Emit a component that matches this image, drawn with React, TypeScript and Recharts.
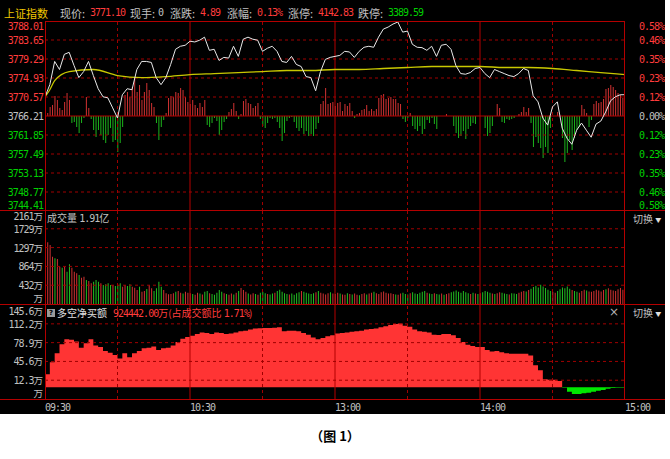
import React from 'react'
import { ComposedChart, Line, Bar, Area, XAxis, YAxis, ReferenceLine, Cell } from 'recharts'

// 上证指数 分时, one row per minute (0 = 09:30, 240 = 15:00)
const PRICE = [ // every 2 minutes
  3770.62, 3773.40, 3778.73, 3776.88, 3780.36, 3780.82, 3777.81, 3775.02, 3776.41, 3778.73,
  3775.49, 3772.47, 3770.62, 3770.38, 3768.07, 3765.75, 3771.08, 3772.47, 3772.24, 3776.88,
  3778.73, 3778.73, 3778.50, 3775.02, 3773.40, 3775.02, 3778.04, 3781.52, 3782.21, 3782.44,
  3783.37, 3783.20, 3783.60, 3784.30, 3781.28, 3781.52, 3778.96, 3779.66, 3779.50, 3782.21,
  3779.89, 3783.83, 3784.30, 3783.83, 3783.60, 3781.05, 3781.75, 3782.21, 3781.05, 3778.73,
  3778.50, 3779.89, 3778.04, 3777.57, 3775.25, 3775.02, 3772.01, 3776.41, 3779.20, 3779.66,
  3779.89, 3780.12, 3781.05, 3780.90, 3779.66, 3781.05, 3781.98, 3782.21, 3781.98, 3784.30,
  3786.15, 3786.62, 3787.31, 3787.78, 3785.46, 3785.70, 3782.67, 3781.98, 3781.90, 3781.28,
  3782.21, 3779.89, 3782.44, 3782.67, 3781.52, 3777.81, 3775.95, 3775.80, 3776.18, 3777.11,
  3777.34, 3775.95, 3775.02, 3776.88, 3776.41, 3775.95, 3775.49, 3775.25, 3775.95, 3777.11,
  3776.65, 3770.85, 3769.46, 3765.75, 3764.12, 3768.30, 3769.46, 3763.43, 3761.11, 3759.72,
  3762.96, 3764.59, 3762.96, 3761.34, 3764.35, 3765.05, 3767.14, 3769.69, 3770.62, 3771.08,
  3771.10,
]
const AVG_MIN = [0, 2, 4, 10, 20, 30, 40, 50, 60, 70, 80, 90, 100, 110, 120, 130, 140, 150, 160, 170, 180, 190, 200, 210, 220, 230, 240]
const AVG = [
  3770.62, 3772.24, 3774.33, 3776.41, 3776.88, 3775.49, 3775.02, 3775.25, 3775.72, 3775.95,
  3776.18, 3776.41, 3776.65, 3776.65, 3776.88, 3776.88, 3777.11, 3777.34, 3777.57, 3777.57,
  3777.57, 3777.34, 3777.34, 3777.11, 3776.65, 3776.18, 3775.72,
]
const STRENGTH = [
  0, 3, 9, 11, 20, 16, 8, 6, 14, 23,
  16, -7, -6, -11, -17, -7, -2, 19, 8, -3,
  -14, -21, -14, -19, -24, -27, -19, -12, -26, -24,
  -36, -27, -11, 21, 24, 19, 29, 38, 24, 31,
  16, 24, 33, 26, 13, 9, -7, -24, -11, -4,
  3, 18, 20, 19, 24, 23, 28, 26, 19, 14,
  12, 16, 11, 8, 13, 9, 16, -9, -11, -7,
  -2, -5, -19, -14, -6, -3, 4, 7, 13, 5,
  -3, 2, 15, 17, 13, 12, 8, 10, 13, -3,
  -10, -12, -7, -2, -3, -2, -6, -12, -25, -17,
  -5, -2, -1, -6, -12, -15, -12, -18, -15, -20,
  -18, -20, -13, -7, 12, 15, 28, 12, 13, 14,
  10, 13, 14, 5, 12, 10, 13, 5, -2, 2,
  3, 6, 7, 11, 5, 7, 5, 7, 18, 21,
  22, 17, 18, 19, 17, 17, 13, 12, -3, -6,
  -2, 3, -10, -13, -15, -10, -18, -13, -4, -7,
  -2, -8, -13, 0, 0, 0, 2, 0, 0, -10,
  -17, -22, -20, -15, -23, -13, -10, -7, -8, 0,
  0, 0, -12, -20, -17, -10, 0, 12, 8, -6,
  -7, -3, -4, -3, -2, 0, 2, 4, 9, 4,
  8, -7, -31, -21, -27, -32, -42, -31, -37, -12,
  0, 0, 4, 0, -22, -46, -37, -24, -34, -22,
  -14, -11, 11, 7, 3, -11, -4, 12, 15, 13,
  14, 17, 27, 28, 31, 29, 26, 23, 21, 18,
  15,
]
const VOLUME = [ // 万
  1817, 1419, 1357, 1088, 1051, 1035, 858, 835, 858, 743,
  913, 835, 743, 706, 667, 605, 628, 552, 529, 476,
  513, 552, 513, 476, 437, 453, 476, 437, 437, 414,
  437, 476, 398, 437, 414, 453, 398, 375, 322, 398,
  283, 299, 345, 437, 361, 299, 361, 513, 398, 322,
  246, 223, 230, 250, 280, 300, 260, 240, 280, 260,
  250, 230, 210, 260, 240, 220, 280, 300, 250, 230,
  210, 260, 320, 280, 250, 230, 210, 240, 220, 260,
  300, 370, 320, 280, 240, 220, 250, 230, 210, 260,
  280, 250, 230, 220, 240, 260, 300, 330, 280, 250,
  230, 220, 240, 210, 250, 270, 300, 280, 260, 240,
  230, 250, 270, 300, 260, 240, 220, 250, 270, 240,
  230, 260, 240, 220, 210, 250, 230, 220, 240, 210,
  200, 230, 250, 220, 240, 260, 280, 250, 230, 270,
  290, 260, 240, 250, 230, 220, 210, 240, 260, 230,
  220, 250, 270, 240, 230, 260, 280, 300, 260, 240,
  230, 250, 230, 220, 240, 210, 230, 250, 270, 290,
  310, 280, 260, 300, 270, 250, 230, 260, 240, 230,
  250, 270, 300, 280, 260, 240, 230, 250, 270, 260,
  240, 230, 220, 250, 240, 230, 260, 280, 300, 290,
  320, 350, 390, 420, 380, 440, 400, 370, 330, 300,
  280, 260, 300, 340, 380, 360, 400, 350, 320, 300,
  280, 260, 300, 330, 310, 290, 280, 300, 330, 310,
  290, 320, 340, 360, 330, 310, 300, 340, 370, 330,
  60,
]
const VOL_DIR = [
  'rrrrgrrgrg', 'grrrgrrgrr', 'gggrggggrg', 'ggrrggrrrg', 'rrgrrggggr',
  'rrrrgrrgrr', 'rgrrgrggrg', 'ggggrgrrgr', 'grrrgrrgrg', 'ggrggrgggg',
  'grggggrggg', 'ggrgrrrrgr', 'rrgrrgrgrr', 'grrgrrgrrr', 'rrrrrgrrgg',
  'grggggggrg', 'grggrgrrgg', 'ggggggrgrg', 'rggggrgrrg', 'ggrgggrrrg',
  'rggggggggg', 'rrggggggrg', 'grrrgrrrrr', 'rrgrrrrrrr', 'g',
].join('')
const NET = [ // 万, every 2 minutes
  23, 44, 60, 76, 85, 84, 81, 70, 78, 85,
  74, 71, 64, 61, 57, 51, 60, 53, 60, 64,
  69, 70, 72, 66, 69, 70, 74, 80, 86, 89,
  91, 94, 97, 96, 94, 97, 96, 94, 95, 97,
  99, 100, 102, 104, 104.5, 105, 105, 105.5, 106, 99,
  100, 100, 99, 96, 93, 88, 85, 87, 90, 92,
  95, 96, 97, 98, 99, 100, 102, 103, 104, 106,
  108, 110, 112, 113, 109, 107, 102, 99, 98, 97,
  93, 92.6, 94, 94, 92, 87, 80, 75, 73, 71,
  71, 66, 63, 64, 62, 60, 59, 59, 59, 59,
  56, 39, 30, 14, 13, 13, 11, -1, -8, -12,
  -12, -11, -10, -8, -6.5, -5, -3, -1.5, -1, -1,
  -3,
]

const PRICE_TICKS = [3744.41, 3748.77, 3753.13, 3757.49, 3761.85, 3766.21, 3770.57, 3774.93, 3779.29, 3783.65, 3788.01]
const PCT_LABELS = ['0.58%', '0.46%', '0.35%', '0.23%', '0.12%', '0.00%', '0.12%', '0.23%', '0.35%', '0.46%', '0.58%']
const VOL_TICKS = [0, 432, 864, 1297, 1729, 2161]
const VOL_LABELS = ['万', '432万', '864万', '1297万', '1729万', '2161万']
const NET_TICKS = [-21.0, 12.3, 45.6, 78.9, 112.2, 145.6]
const NET_LABELS = ['万', '12.3万', '45.6万', '78.9万', '112.2万', '145.6万']
const TIME_TICKS = [0, 60, 120, 180, 240]
const TIME_LABELS = ['09:30', '10:30', '13:00', '14:00', '15:00']
const GRID_MIN = [30, 60, 90, 120, 150, 180, 210]

const RED_TXT = '#ff3c3c'
const GREEN_TXT = '#00d000'
const GRAY_TXT = '#c0c0c0'
const FRAME = '#b40000'
const GRID = '#a00000'
const NUM: React.CSSProperties = { fontFamily: "'DejaVu Sans Mono', monospace", fontSize: 10, letterSpacing: -1 }
const CJK = "'Noto Sans CJK SC', sans-serif"

const rows = Array.from({ length: 241 }, (_, t) => {
  const ai = AVG_MIN.indexOf(t)
  const n = t % 2 === 0 ? NET[t / 2] : null
  return {
    t,
    price: t % 2 === 0 ? PRICE[t / 2] : null,
    avg: ai >= 0 ? AVG[ai] : null,
    str: STRENGTH[t],
    vol: VOLUME[t],
    up: n == null ? null : Math.max(n, 0),
    dn: n == null ? null : Math.min(n, 0),
  }
})

const PMAX = PRICE_TICKS[PRICE_TICKS.length - 1]
const PMIN = PRICE_TICKS[0]
const PMID = PRICE_TICKS[5]

function PriceTick({ y, payload }: any) {
  const v = payload.value
  const fill = v > PMID + 0.01 ? RED_TXT : v < PMID - 0.01 ? GREEN_TXT : GRAY_TXT
  const dy = v === PMAX ? 5 : v === PMIN ? -6 : 0
  return <text x={43} y={y + dy} textAnchor="end" dominantBaseline="central" fill={fill} style={NUM}>{v.toFixed(2)}</text>
}

function PctTick({ y, payload }: any) {
  const v = payload.value
  const i = PRICE_TICKS.indexOf(v)
  const fill = v > PMID + 0.01 ? RED_TXT : v < PMID - 0.01 ? GREEN_TXT : GRAY_TXT
  const dy = v === PMAX ? 5 : v === PMIN ? -6 : 0
  return <text x={639} y={y + dy} textAnchor="start" dominantBaseline="central" fill={fill} style={NUM}>{PCT_LABELS[i]}</text>
}

function makeTick(ticks: number[], labels: string[]) {
  return function UnitTick({ y, payload }: any) {
    const i = ticks.indexOf(payload.value)
    const dy = i === ticks.length - 1 ? 6 : i === 0 ? -6 : 0
    const label = labels[i]
    const num = label.slice(0, -1)
    return (
      <text x={43} y={y + dy} textAnchor="end" dominantBaseline="central" fill={GRAY_TXT}>
        <tspan style={NUM}>{num}</tspan>
        <tspan style={{ fontFamily: CJK, fontSize: 9.5 }}>万</tspan>
      </text>
    )
  }
}
const VolTick = makeTick(VOL_TICKS, VOL_LABELS)
const NetTick = makeTick(NET_TICKS, NET_LABELS)

function TimeTick({ x, payload }: any) {
  const i = TIME_TICKS.indexOf(payload.value)
  return <text x={x} y={102} textAnchor="start" dominantBaseline="central" fill={GRAY_TXT} style={NUM}>{TIME_LABELS[i]}</text>
}

const vGrid = (yId: string) => GRID_MIN.map(m => (
  <ReferenceLine key={'v' + m} x={m} yAxisId={yId} stroke={m % 60 === 0 ? FRAME : GRID}
    strokeDasharray={m % 60 === 0 ? undefined : '3 3'} ifOverflow="visible" />
))
const hGrid = (yId: string, values: number[]) => values.map(v => (
  <ReferenceLine key={'h' + v} y={v} yAxisId={yId} stroke={GRID} strokeDasharray="3 3" ifOverflow="visible" />
))

const line = (style: React.CSSProperties) => <div style={{ position: 'absolute', background: FRAME, ...style }} />

function Header() {
  const items = [
    { l: '现价:', lx: 60, v: '3771.10', vx: 90, c: RED_TXT },
    { l: '现手:', lx: 130, v: '0', vx: 158, c: GRAY_TXT },
    { l: '涨跌:', lx: 170, v: '4.89', vx: 200, c: RED_TXT },
    { l: '涨幅:', lx: 227, v: '0.13%', vx: 257, c: RED_TXT },
    { l: '涨停:', lx: 288, v: '4142.83', vx: 318, c: RED_TXT },
    { l: '跌停:', lx: 358, v: '3389.59', vx: 388, c: GREEN_TXT },
  ]
  return (
    <>
      <div style={{ position: 'absolute', left: 4, top: 5, fontFamily: CJK, fontSize: 11, lineHeight: '16px', color: '#f0c800' }}>上证指数</div>
      {items.map(it => (
        <React.Fragment key={it.l}>
          <div style={{ position: 'absolute', left: it.lx, top: 5, fontFamily: CJK, fontSize: 11, lineHeight: '16px', color: GRAY_TXT }}>{it.l}</div>
          <div style={{ position: 'absolute', left: it.vx, top: 7, ...NUM, lineHeight: '12px', color: it.c }}>{it.v}</div>
        </React.Fragment>
      ))}
    </>
  )
}

function Switch({ top }: { top: number }) {
  return (
    <div style={{ position: 'absolute', left: 633, top, fontFamily: CJK, fontSize: 10, lineHeight: '14px', color: GRAY_TXT }}>
      切换 <span style={{ fontSize: 6, color: '#e0e0e0', verticalAlign: 'middle' }}>▼</span>
    </div>
  )
}

export default function App() {
  return (
    <div style={{ position: 'absolute', left: 0, top: 0, width: 670, height: 459, background: '#fff', overflow: 'hidden' }}>
      <style>{'.recharts-surface { overflow: visible; }'}</style>
      <div style={{ position: 'absolute', left: 0, top: 0, width: 665, height: 414, background: '#000' }}>
        <Header />

        {/* 价格 */}
        <div style={{ position: 'absolute', left: 0, top: 0 }}>
          <ComposedChart width={665} height={211} data={rows} margin={{ top: 21, right: 0, bottom: 0, left: 0 }}>
            <XAxis dataKey="t" type="number" domain={[0, 240]} hide allowDataOverflow />
            <YAxis yAxisId="p" orientation="left" width={45} domain={[PMIN, PMAX]} ticks={PRICE_TICKS} interval={0}
              tick={<PriceTick />} axisLine={false} tickLine={false} allowDataOverflow />
            <YAxis yAxisId="r" orientation="right" width={40} domain={[PMIN, PMAX]} ticks={PRICE_TICKS} interval={0}
              tick={<PctTick />} axisLine={false} tickLine={false} allowDataOverflow />
            <YAxis yAxisId="s" hide domain={[-95, 95]} allowDataOverflow />
            {vGrid('p')}
            {hGrid('p', PRICE_TICKS.slice(1, -1).filter(v => v !== PMID))}
            <ReferenceLine y={PMID} yAxisId="p" stroke={FRAME} />
            <Bar yAxisId="s" dataKey="str" barSize={1} isAnimationActive={false}>
              {rows.map(r => <Cell key={r.t} fill={r.str >= 0 ? '#d23232' : '#1cb41c'} />)}
            </Bar>
            <Line yAxisId="p" dataKey="avg" type="monotone" stroke="#c8c800" strokeWidth={1.3} dot={false} connectNulls isAnimationActive={false} />
            <Line yAxisId="p" dataKey="price" type="linear" stroke="#e8e8e8" strokeWidth={1} dot={false} connectNulls isAnimationActive={false} />
          </ComposedChart>
        </div>

        {/* 成交量 */}
        <div style={{ position: 'absolute', left: 0, top: 210 }}>
          <ComposedChart width={665} height={94} data={rows} margin={{ top: 0, right: 40, bottom: 0, left: 0 }}>
            <XAxis dataKey="t" type="number" domain={[0, 240]} hide allowDataOverflow />
            <YAxis yAxisId="v" width={45} domain={[0, 2161]} ticks={VOL_TICKS} interval={0}
              tick={<VolTick />} axisLine={false} tickLine={false} allowDataOverflow />
            {vGrid('v')}
            {hGrid('v', VOL_TICKS.slice(1, -1))}
            <Bar yAxisId="v" dataKey="vol" barSize={1} isAnimationActive={false}>
              {rows.map(r => <Cell key={r.t} fill={VOL_DIR[r.t] === 'r' ? '#d23232' : '#22c022'} />)}
            </Bar>
          </ComposedChart>
        </div>

        {/* 多空净买额 */}
        <div style={{ position: 'absolute', left: 0, top: 305 }}>
          <ComposedChart width={665} height={108} data={rows} margin={{ top: 0, right: 40, bottom: 0, left: 0 }}>
            <XAxis dataKey="t" type="number" domain={[0, 240]} ticks={TIME_TICKS} interval={0} height={14}
              tick={<TimeTick />} axisLine={false} tickLine={false} allowDataOverflow />
            <YAxis yAxisId="n" width={45} domain={[-21.0, 145.6]} ticks={NET_TICKS} interval={0}
              tick={<NetTick />} axisLine={false} tickLine={false} allowDataOverflow />
            <Area yAxisId="n" dataKey="up" type="stepAfter" baseValue={0} fill="#ff3434" fillOpacity={1} stroke="none" connectNulls isAnimationActive={false} />
            <Area yAxisId="n" dataKey="dn" type="stepAfter" baseValue={0} fill="#00e600" fillOpacity={1} stroke="none" connectNulls isAnimationActive={false} />
            {vGrid('n')}
            {hGrid('n', NET_TICKS.slice(1, -1))}
          </ComposedChart>
        </div>

        {/* 边框 */}
        {line({ left: 45, top: 21, width: 580, height: 1 })}
        {line({ left: 0, top: 210, width: 665, height: 1 })}
        {line({ left: 0, top: 304, width: 665, height: 1 })}
        {line({ left: 0, top: 399, width: 665, height: 1 })}
        {line({ left: 45, top: 21, width: 1, height: 378 })}
        {line({ left: 624, top: 21, width: 1, height: 378 })}

        <div style={{ position: 'absolute', left: 47, top: 211, fontFamily: CJK, fontSize: 10, lineHeight: '14px', color: GRAY_TXT }}>
          成交量 <span style={NUM}>1.91</span>亿
        </div>
        <Switch top={212} />

        <div style={{ position: 'absolute', left: 47, top: 309, width: 8, height: 8, background: '#9a9a9a', color: '#000', fontSize: 7, lineHeight: '8px', textAlign: 'center', fontWeight: 700, fontFamily: 'DejaVu Sans' }}>?</div>
        <div style={{ position: 'absolute', left: 57, top: 306, fontFamily: CJK, fontSize: 10, lineHeight: '14px', color: '#e0e0e0' }}>多空净买额</div>
        <div style={{ position: 'absolute', left: 113, top: 306, fontFamily: CJK, fontSize: 10, lineHeight: '14px', color: RED_TXT, whiteSpace: 'nowrap' }}>
          <span style={NUM}>924442.00</span>万(占成交额比 <span style={NUM}>1.71%</span>)
        </div>
        <div style={{ position: 'absolute', left: 609, top: 305, fontFamily: 'DejaVu Sans', fontSize: 12, lineHeight: '14px', color: '#b0b0b0' }}>×</div>
        <Switch top={306} />
      </div>
      <div style={{ position: 'absolute', left: 0, top: 426, width: 670, textAlign: 'center', fontFamily: CJK, fontSize: 13, fontWeight: 700, color: '#000' }}>（图 1）</div>
    </div>
  )
}
